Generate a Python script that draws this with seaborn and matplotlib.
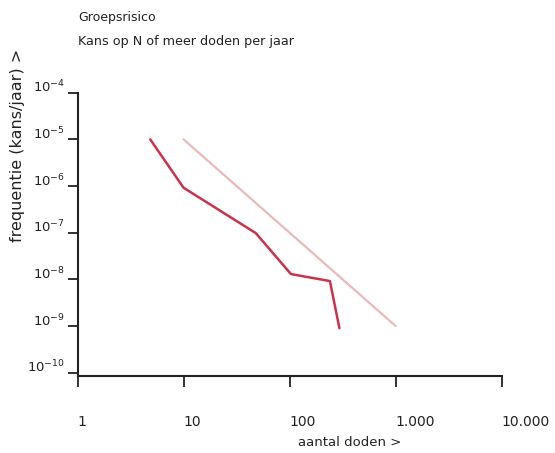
import matplotlib
matplotlib.use("Agg")
import matplotlib.pyplot as plt
import seaborn as sns
import pandas as pd
import numpy as np
from matplotlib.ticker import FixedLocator, FixedFormatter, NullLocator

# Data
risk_n = [4.85, 10, 48, 103, 240, 295]
risk_f = [1.0e-5, 9.2e-7, 9.8e-8, 1.3e-8, 9.2e-9, 9.0e-10]
norm_n = [10, 1000]
norm_f = [1e-5, 1e-9]
x_ticks = [1, 10, 100, 1000, 10000]
x_tick_labels = ["1", "10", "100", "1.000", "10.000"]
y_ticks = [1e-4, 1e-5, 1e-6, 1e-7, 1e-8, 1e-9, 1e-10]
y_tick_labels = [r"$10^{-4}$", r"$10^{-5}$", r"$10^{-6}$", r"$10^{-7}$",
                 r"$10^{-8}$", r"$10^{-9}$", r"$10^{-10}$"]

sns.set_style("white")
plt.rcParams['font.family'] = ['DejaVu Sans']
plt.rcParams['mathtext.fontset'] = 'dejavusans'

W, H = 555, 453
fig = plt.figure(figsize=(W / 100, H / 100), dpi=100)
x0, x1 = 77.5, 501.7
y0, y1 = 92.7, 376
ax = fig.add_axes([x0 / W, 1 - y1 / H, (x1 - x0) / W, (y1 - y0) / H])

df_norm = pd.DataFrame({"n": norm_n, "f": norm_f})
df_risk = pd.DataFrame({"n": risk_n, "f": risk_f})
sns.lineplot(data=df_norm, x="n", y="f", ax=ax, color="#e9b9b9", linewidth=1.6)
sns.lineplot(data=df_risk, x="n", y="f", ax=ax, color="#cc3249", linewidth=1.8)

ax.set_xscale("log")
ax.set_yscale("log")
ax.set_xlim(1, 10000)
ax.set_ylim(10 ** -10.07, 1e-4)

ax.xaxis.set_major_locator(FixedLocator(x_ticks))
ax.xaxis.set_major_formatter(FixedFormatter(x_tick_labels))
ax.xaxis.set_minor_locator(NullLocator())
ax.yaxis.set_major_locator(FixedLocator(y_ticks))
ax.yaxis.set_major_formatter(FixedFormatter(y_tick_labels))
ax.yaxis.set_minor_locator(NullLocator())

for s in ["top", "right"]:
    ax.spines[s].set_visible(False)
for s in ["left", "bottom"]:
    ax.spines[s].set_color("#222222")
    ax.spines[s].set_linewidth(1.5)

ax.tick_params(axis="x", bottom=True, direction="out", length=8, width=1.3,
               color="#222222", pad=20, labelsize=10, labelcolor="#222222")
ax.tick_params(axis="y", left=True, direction="out", length=7, width=1.3,
               color="#222222", pad=2, labelsize=9.5, labelcolor="#222222")
for lab in ax.get_yticklabels():
    lab.set_verticalalignment("baseline")
for lab in ax.get_xticklabels():
    lab.set_horizontalalignment("left")

ax.set_xlabel("aantal doden >", fontsize=9.5, color="#222222")
ax.xaxis.set_label_coords((350 - x0) / (x1 - x0), (y1 - 442) / (y1 - y0))
ax.xaxis.label.set_verticalalignment("center")
ax.set_ylabel("frequentie (kans/jaar) >", fontsize=11.5, color="#222222")
ax.yaxis.set_label_coords((18 - x0) / (x1 - x0), (y1 - 145.5) / (y1 - y0))
ax.yaxis.label.set_verticalalignment("center")
ax.grid(False)

fig.text(78 / W, 1 - 18 / H, "Groepsrisico", fontsize=9, color="#222222",
         ha="left", va="center")
fig.text(78 / W, 1 - 41 / H, "Kans op N of meer doden per jaar", fontsize=9.2,
         color="#222222", ha="left", va="center")

fig.savefig("out.png", dpi=100)
